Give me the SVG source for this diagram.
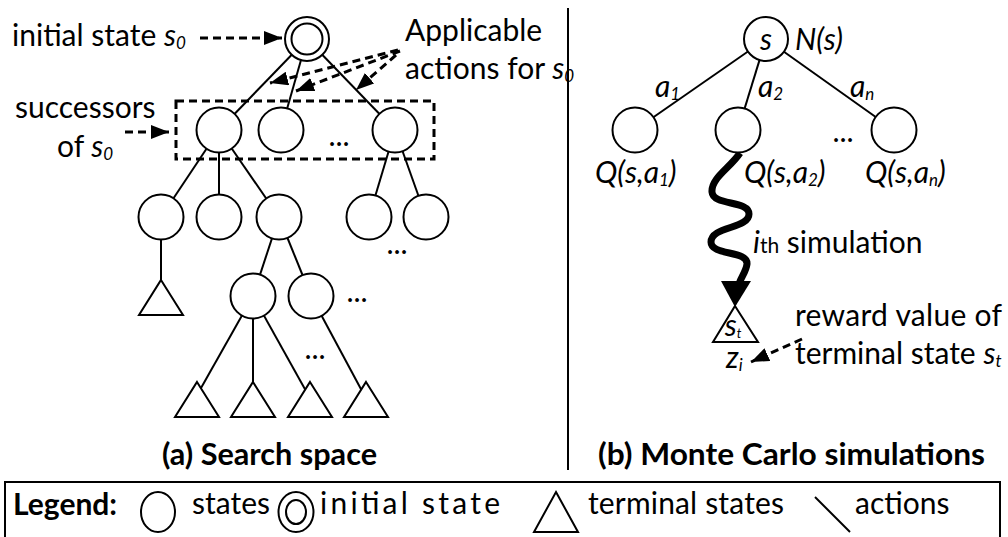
<svg xmlns="http://www.w3.org/2000/svg" width="1008" height="537" viewBox="0 0 1008 537">
<defs>
<marker id="ah" markerUnits="userSpaceOnUse" markerWidth="20" markerHeight="14" refX="18" refY="7" orient="auto"><path d="M0,0 L18,7 L0,14 z" fill="#000"/></marker>
</defs>
<style>
text{font-family:Lato,"Open Sans","Liberation Sans",sans-serif;font-size:30px;fill:#000}
.it{font-style:italic}
.b{font-weight:bold}
.n{fill:#fff;stroke:#000;stroke-width:2}
.e{stroke:#000;stroke-width:2;fill:none}
.d{stroke:#000;stroke-width:3;stroke-dasharray:8,5;fill:none}
.sub{font-size:17px}
</style>
<rect width="1008" height="537" fill="#fff"/>
<line x1="568" y1="8" x2="568" y2="470" class="e"/>
<g id="connectors">
<line x1="307" y1="39" x2="219" y2="130" class="e"/>
<line x1="307" y1="39" x2="281" y2="130" class="e"/>
<line x1="307" y1="39" x2="395" y2="130" class="e"/>
<line x1="219" y1="130" x2="161" y2="217" class="e"/>
<line x1="219" y1="130" x2="219" y2="217" class="e"/>
<line x1="219" y1="130" x2="279" y2="217" class="e"/>
<line x1="395" y1="130" x2="369" y2="217" class="e"/>
<line x1="395" y1="130" x2="426" y2="217" class="e"/>
<line x1="279" y1="217" x2="253" y2="296" class="e"/>
<line x1="279" y1="217" x2="311" y2="296" class="e"/>
<line x1="161" y1="217" x2="161" y2="280" class="e"/>
<line x1="253" y1="296" x2="201" y2="388" class="e"/>
<line x1="253" y1="296" x2="253" y2="382" class="e"/>
<line x1="253" y1="296" x2="306" y2="391" class="e"/>
<line x1="311" y1="296" x2="362" y2="391" class="e"/>
<line x1="766" y1="39" x2="635" y2="130" class="e"/>
<line x1="766" y1="39" x2="738" y2="130" class="e"/>
<line x1="766" y1="39" x2="894" y2="130" class="e"/>
<path d="M740,153 C730,168 711,178 712,192 C713,206 749,200 749,214 C749,229 711,226 711,242 C711,256 748,250 747,264 C746,272 741,277 739,284" fill="none" stroke="#000" stroke-width="7"/>
<path d="M721,281 L751,281 L735,307 z" fill="#000"/>
<line x1="200" y1="38" x2="282" y2="38" class="d" marker-end="url(#ah)"/>
<line x1="125" y1="132" x2="169" y2="132" class="d" marker-end="url(#ah)"/>
<line x1="398" y1="50" x2="270" y2="83" class="d" marker-end="url(#ah)"/>
<line x1="400" y1="51" x2="296" y2="91" class="d" marker-end="url(#ah)"/>
<line x1="396" y1="55" x2="356" y2="90" class="d" marker-end="url(#ah)"/>
<line x1="802" y1="339" x2="751" y2="362" class="d" marker-end="url(#ah)"/>
</g>
<g id="successors-box"><rect x="176" y="101" width="258" height="58" class="d"/></g>
<g id="root"><circle cx="307" cy="39" r="22" class="n"/><circle cx="307" cy="39" r="15.5" class="n"/></g>
<g id="c1"><circle cx="219" cy="130" r="22.5" class="n"/></g>
<g id="c2"><circle cx="281" cy="130" r="22.5" class="n"/></g>
<g id="c3"><circle cx="395" cy="130" r="22.5" class="n"/></g>
<g id="nA"><circle cx="161" cy="217" r="22.5" class="n"/></g>
<g id="nB"><circle cx="219" cy="217" r="22.5" class="n"/></g>
<g id="nC"><circle cx="279" cy="217" r="22.5" class="n"/></g>
<g id="nD"><circle cx="369" cy="217" r="22.5" class="n"/></g>
<g id="nE"><circle cx="426" cy="217" r="22.5" class="n"/></g>
<g id="nF"><circle cx="253" cy="296" r="22.5" class="n"/></g>
<g id="nG"><circle cx="311" cy="296" r="22.5" class="n"/></g>
<g id="t0"><path d="M161,280 L183,315 L139,315 z" class="n"/></g>
<g id="t1"><path d="M197,382 L219,417 L175,417 z" class="n"/></g>
<g id="t2"><path d="M253,382 L275,417 L231,417 z" class="n"/></g>
<g id="t3"><path d="M310,382 L332,417 L288,417 z" class="n"/></g>
<g id="t4"><path d="M366,382 L388,417 L344,417 z" class="n"/></g>
<g id="labels-a">
<text x="12" y="46">initial state <tspan class="it">s</tspan><tspan class="it sub" dy="3">0</tspan></text>
<text x="405" y="41">Applicable</text>
<text x="405" y="79">actions for <tspan class="it">s</tspan><tspan class="it sub" dy="3">0</tspan></text>
<text x="15" y="118">successors</text>
<text x="57" y="157">of <tspan class="it">s</tspan><tspan class="it sub" dy="3">0</tspan></text>
<text x="339" y="146" text-anchor="middle">...</text>
<text x="397" y="254" text-anchor="middle">...</text>
<text x="357" y="302" text-anchor="middle">...</text>
<text x="315" y="359" text-anchor="middle">...</text>
<text x="162" y="465" class="b" font-size="31" textLength="215" lengthAdjust="spacingAndGlyphs">(a) Search space</text>
</g>
<g id="s-root"><circle cx="766" cy="39" r="22" class="n"/><text x="766" y="50" class="it" text-anchor="middle">s</text></g>
<g id="q1"><circle cx="635" cy="130" r="22.5" class="n"/></g>
<g id="q2"><circle cx="738" cy="130" r="22.5" class="n"/></g>
<g id="qn"><circle cx="894" cy="130" r="22.5" class="n"/></g>
<g id="st"><path d="M735,306 L758,342 L713,342 z" class="n"/><text x="733" y="336" class="it" font-size="22" text-anchor="middle">s<tspan font-size="13" dy="2">t</tspan></text></g>
<g id="labels-b">
<text x="795" y="50" class="it">N(s)</text>
<text x="655" y="97" class="it">a<tspan class="sub" dy="3">1</tspan></text>
<text x="758" y="97" class="it">a<tspan class="sub" dy="3">2</tspan></text>
<text x="850" y="97" class="it">a<tspan class="sub" dy="3">n</tspan></text>
<text x="843" y="142" text-anchor="middle">...</text>
<text x="595" y="183" class="it">Q(s,a<tspan class="sub" dy="3">1</tspan><tspan dy="-3">)</tspan></text>
<text x="744" y="183" class="it">Q(s,a<tspan class="sub" dy="3">2</tspan><tspan dy="-3">)</tspan></text>
<text x="865" y="183" class="it">Q(s,a<tspan class="sub" dy="3">n</tspan><tspan dy="-3">)</tspan></text>
<text x="753" y="253"><tspan class="it">i</tspan><tspan font-size="21">th</tspan> simulation</text>
<text x="726" y="368" class="it" font-size="24">z<tspan class="sub" font-size="14" dy="3">i</tspan></text>
<text x="795" y="326" textLength="207" lengthAdjust="spacing">reward value of</text>
<text x="795" y="364">terminal state <tspan class="it">s</tspan><tspan class="it sub" dy="3">t</tspan></text>
<text x="598" y="465" class="b" font-size="31" textLength="387" lengthAdjust="spacingAndGlyphs">(b) Monte Carlo simulations</text>
</g>
<g id="legend">
<rect x="5" y="482" width="995" height="70" fill="none" stroke="#000" stroke-width="2"/>
<text x="13" y="515" class="b">Legend:</text>
<ellipse cx="158" cy="512" rx="17" ry="20" class="n"/>
<text x="192" y="514">states</text>
<ellipse cx="296" cy="512" rx="17.5" ry="20" class="n"/>
<ellipse cx="296" cy="512" rx="10" ry="12" class="n"/>
<text x="320" y="514" textLength="180" lengthAdjust="spacing">initial state</text>
<path d="M556,492 L578,532 L534,532 z" class="n"/>
<text x="588" y="514" textLength="196" lengthAdjust="spacing">terminal states</text>
<line x1="815" y1="497" x2="850" y2="532" class="e"/>
<text x="855" y="514">actions</text>
</g>
</svg>
